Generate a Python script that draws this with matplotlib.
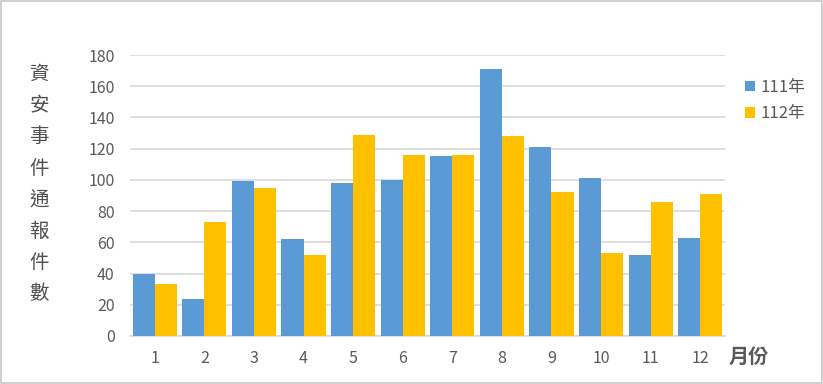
"""Monthly security incident reports, 111 vs 112."""

import matplotlib

matplotlib.use("Agg")
import matplotlib.pyplot as plt
import numpy as np

plt.rcParams["font.family"] = ["Noto Sans CJK TC", "DejaVu Sans"]

BLUE = "#5B9BD5"
GOLD = "#FFC000"
GRAY = "#595959"
GRID = "#D9D9D9"

MONTHS = ["1", "2", "3", "4", "5", "6", "7", "8", "9", "10", "11", "12"]
SERIES_NAMES = ["111年", "112年"]
VALUES_111 = [40, 24, 99, 62, 98, 100, 115, 171, 121, 101, 52, 63]
VALUES_112 = [33, 73, 95, 52, 129, 116, 116, 128, 92, 53, 86, 91]
Y_TICKS = [0, 20, 40, 60, 80, 100, 120, 140, 160, 180]
Y_LABEL = "資安事件通報件數"
X_LABEL = "月份"


def make_plot() -> None:
    fig = plt.figure(figsize=(8.23, 3.84), dpi=100)
    fig.patch.set_edgecolor("#D0D0D0")
    fig.patch.set_linewidth(1.5)

    ax = fig.add_axes([130 / 823, 1 - 336 / 384, 595 / 823, 281 / 384])

    x = np.arange(len(MONTHS))
    width = 0.445
    ax.bar(x - width / 2, VALUES_111, width, color=BLUE, label=SERIES_NAMES[0], zorder=3)
    ax.bar(x + width / 2, VALUES_112, width, color=GOLD, label=SERIES_NAMES[1], zorder=3)

    ax.set_xlim(-0.5, len(MONTHS) - 0.5)
    ax.set_ylim(0, 180)
    ax.set_yticks(Y_TICKS)
    ax.set_xticks(x)
    ax.set_xticklabels(MONTHS)
    ax.yaxis.grid(True, color=GRID, linewidth=1.2, zorder=0)
    ax.set_axisbelow(True)

    for side in ["top", "right", "left"]:
        ax.spines[side].set_visible(False)
    ax.spines["bottom"].set_color(GRID)
    ax.spines["bottom"].set_linewidth(1.2)
    ax.tick_params(axis="both", length=0, labelsize=11.5, labelcolor=GRAY)
    ax.tick_params(axis="y", pad=11)
    ax.tick_params(axis="x", pad=10)

    fig.text(
        39 / 823,
        1 - 184 / 384,
        "\n".join(Y_LABEL),
        fontsize=14,
        color="#505050",
        ha="center",
        va="center",
        linespacing=1.65,
    )
    fig.text(
        749 / 823,
        1 - 356 / 384,
        X_LABEL,
        fontsize=14.5,
        fontweight="bold",
        color=GRAY,
        ha="center",
        va="center",
    )

    fig.legend(
        loc="upper left",
        bbox_to_anchor=(730 / 823, 1 - 64 / 384),
        frameon=False,
        fontsize=12,
        labelcolor=GRAY,
        handlelength=0.6,
        handleheight=0.6,
        handletextpad=0.3,
        labelspacing=0.55,
    )

    fig.savefig("out.png", dpi=100, facecolor="white", edgecolor=fig.patch.get_edgecolor())
    plt.close(fig)


if __name__ == "__main__":
    make_plot()
